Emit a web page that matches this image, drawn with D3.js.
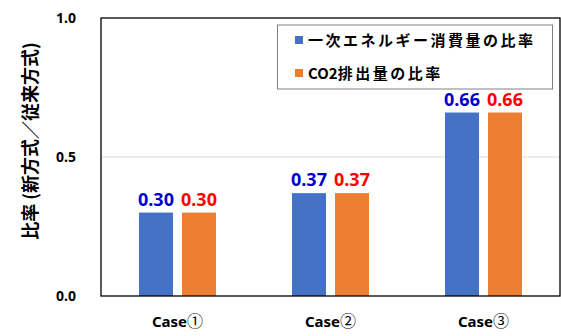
<!DOCTYPE html>
<html><head><meta charset="utf-8">
<script src="https://cdn.jsdelivr.net/npm/d3@7"></script>
<style>
body{margin:0;background:#fff;}
svg{display:block;}
</style></head>
<body>
<svg id="c" width="561" height="336"></svg>
<script>
const categories = ["Case①", "Case②", "Case③"];
const seriesNames = ["一次エネルギー消費量の比率", "CO2排出量の比率"];
const energyRatio = [0.30, 0.37, 0.66];
const co2Ratio = [0.30, 0.37, 0.66];
const yTicks = [0.0, 0.5, 1.0];
const yTitle = "比率 (新方式／従来方式)";

const barColors = ["#4472C4", "#ED7D31"];
const labelColors = ["#0000CC", "#FF0000"];
const series = [energyRatio, co2Ratio];

const svg = d3.select("#c");
const m = {left:101, right:560, top:18, bottom:296};
const latin = "'Noto Sans','Liberation Sans',sans-serif";
const cjk = "'Noto Sans CJK JP','Noto Sans',sans-serif";

const x = d3.scaleBand().domain(categories).range([m.left, m.right]);
const y = d3.scaleLinear().domain([0, 1]).range([m.bottom, m.top]);
const barW = 34, gap = 9;
const xs = d3.scaleBand().domain([0,1]).range([0, 2*barW+gap]).paddingInner(gap/(barW+gap));

// gridline
svg.append("g").selectAll("line").data(yTicks.filter(t => t > 0 && t < 1)).join("line")
  .attr("x1", m.left).attr("x2", m.right)
  .attr("y1", d => y(d)).attr("y2", d => y(d))
  .attr("stroke", "#d9d9d9").attr("stroke-width", 1);

// bars
series.forEach((vals, si) => {
  const g = svg.append("g");
  g.selectAll("rect").data(vals).join("rect")
    .attr("x", (d, i) => x(categories[i]) + x.bandwidth()/2 - (2*barW+gap)/2 + xs(si))
    .attr("y", d => y(d))
    .attr("width", xs.bandwidth())
    .attr("height", d => y(0) - y(d))
    .attr("fill", barColors[si]);
  g.selectAll("text").data(vals).join("text")
    .attr("x", (d, i) => x(categories[i]) + x.bandwidth()/2 - (2*barW+gap)/2 + xs(si) + xs.bandwidth()/2)
    .attr("y", d => y(d) - 7)
    .attr("text-anchor", "middle")
    .attr("font-family", latin).attr("font-weight", "bold").attr("font-size", 18)
    .attr("fill", labelColors[si])
    .text(d => d3.format(".2f")(d));
});

// frame
svg.append("rect").attr("x", m.left).attr("y", m.top)
  .attr("width", m.right - m.left).attr("height", m.bottom - m.top)
  .attr("fill", "none").attr("stroke", "#000").attr("stroke-width", 1.3);

// y axis
const yAxis = d3.axisLeft(y).tickValues(yTicks).tickFormat(d3.format(".1f")).tickSize(0).tickPadding(25);
const ya = svg.append("g").attr("transform", `translate(${m.left},0)`).call(yAxis);
ya.select(".domain").remove();
ya.selectAll("text").attr("font-family", latin).attr("font-weight", "bold").attr("font-size", 14).attr("fill", "#000");

// x axis
const xAxis = d3.axisBottom(x).tickSize(0).tickPadding(20).tickFormat(() => "");
const xa = svg.append("g").attr("transform", `translate(0,${m.bottom})`).call(xAxis);
xa.select(".domain").remove();
xa.selectAll(".tick text").each(function(d) {
  const t = d3.select(this).attr("font-family", latin).attr("font-size", 15).attr("fill", "#000");
  t.append("tspan").attr("font-weight", "bold").text(d.slice(0, 4));
  t.append("tspan").attr("font-family", cjk).attr("font-weight", "normal").attr("font-size", 16).text(d.slice(4));
});

// y title
svg.append("text").attr("transform", "translate(37,141) rotate(-90)")
  .attr("text-anchor", "middle")
  .attr("font-family", cjk).attr("font-weight", "bold").attr("font-size", 18)
  .attr("fill", "#000").text(yTitle);

// legend
const lg = svg.append("g");
lg.append("rect").attr("x", 277.5).attr("y", 25).attr("width", 275).attr("height", 64)
  .attr("fill", "#fff").attr("stroke", "#808080").attr("stroke-width", 1);
seriesNames.forEach((name, i) => {
  const yy = 36 + i * 33;
  lg.append("rect").attr("x", 295).attr("y", yy).attr("width", 8).attr("height", 8).attr("fill", barColors[i]);
  const t = lg.append("text").attr("x", 308).attr("y", yy + 10)
    .attr("font-family", cjk).attr("font-weight", "bold").attr("font-size", 15).attr("fill", "#000");
  const m2 = name.match(/^[A-Za-z0-9]+/);
  if (m2) {
    t.append("tspan").attr("letter-spacing", 0).text(m2[0]);
    t.append("tspan").attr("letter-spacing", 2.5).text(name.slice(m2[0].length));
  } else {
    t.append("tspan").attr("letter-spacing", 2.5).text(name);
  }
});
</script>
</body></html>
